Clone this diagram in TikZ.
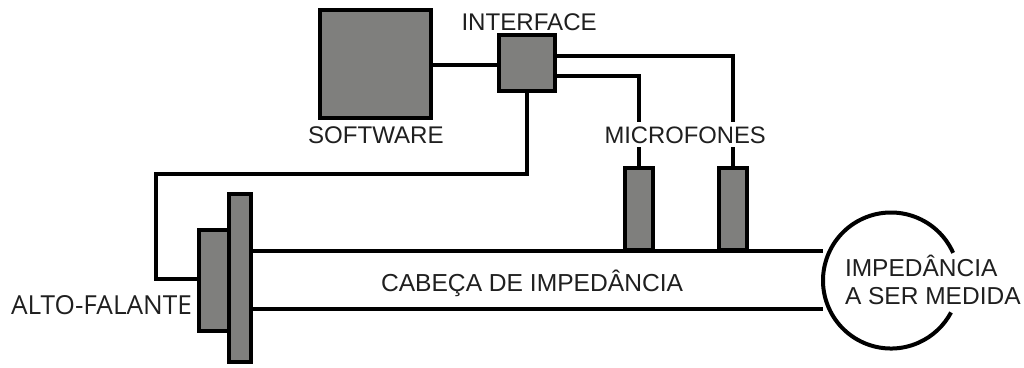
\documentclass[tikz,border=0pt]{standalone}
\usepackage{fontspec}
\setmainfont{Liberation Sans}
\newfontfamily\altofont{Open Sans}
\begin{document}
\begin{tikzpicture}[x=1pt,y=-1pt,
  block/.style={draw=black,fill=gray808,line width=4pt,inner sep=0pt,outer sep=0pt,rectangle},
  wire/.style={draw=black,line width=4pt,line cap=butt,line join=miter},
  tube/.style={draw=black,line width=4pt},
  lbl/.style={anchor=base west,inner sep=0pt,outer sep=0pt,font=\fontsize{24.1pt}{28pt}\selectfont,text=black!88}]
\definecolor{gray808}{HTML}{7F7F7D}
\useasboundingbox (0,0) rectangle (1024,367);
\node[block,minimum width=111pt,minimum height=108pt] (soft) at (375.5,64) {};
\node[block,minimum width=56pt,minimum height=56pt] (iface) at (527,63) {};
\coordinate (tubeA) at (251,251);
\coordinate (tubeB) at (251,309);
\node[circle,minimum size=136pt,inner sep=0pt,outer sep=0pt] (imp) at (891,280.5) {};
% tube
\draw[tube] (tubeA) -- (tubeA -| imp.west);
\draw[tube] (tubeB) -- (tubeB -| imp.west);
% microphones
\node[block,minimum width=28pt,minimum height=82pt] (mica) at (639,209) {};
\node[block,minimum width=28pt,minimum height=82pt] (micb) at (733,209) {};
% connectors
\draw[wire] (soft.east |- 0,65) -- (iface.west |- 0,65);
\draw[wire] (iface.east |- 0,56) -| (micb.north);
\draw[wire] (iface.east |- 0,76) -| (mica.north);
% speaker
\node[block,minimum width=30pt,minimum height=101pt] (mag) at (214,280.5) {};
\node[block,minimum width=22pt,minimum height=168pt] (plate) at (240,278) {};
\draw[wire] (iface.south) |- (156,174) |- (mag.west |- 0,279);
% impedance
\draw[black,line width=4pt] (imp.24) arc[start angle=24,end angle=332,radius=68pt];
% labels
\node[lbl] (tsoft) at (308,143) {SOFTWARE};
\node[lbl] (tiface) at (461.5,30) {INTERFACE};
\node[lbl,fill=white,inner ysep=4pt,font=\fontsize{23.8pt}{28pt}\selectfont] (tmic) at (604.5,143) {MICROFONES};
\node[lbl,font=\altofont\fontsize{26.2pt}{28pt}\selectfont] (talto) at (11,314) {ALTO-FALANTE};
\node[lbl,font=\fontsize{24.6pt}{28pt}\selectfont] (thead) at (381,291) {CABEÇA DE IMPEDÂNCIA};
\node[lbl,font=\fontsize{24.5pt}{28pt}\selectfont] (timp) at (845,276) {IMPEDÂNCIA};
\node[lbl,font=\fontsize{24.5pt}{28pt}\selectfont] (tser) at (845,304) {A SER MEDIDA};
\end{tikzpicture}
\end{document}
